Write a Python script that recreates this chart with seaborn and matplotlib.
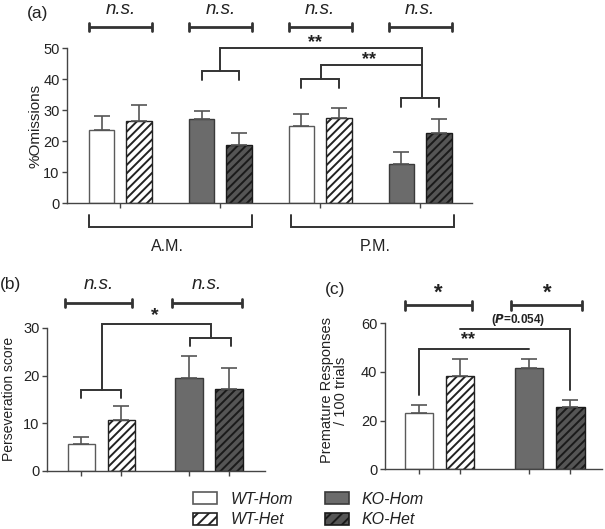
import numpy as np
import pandas as pd
import seaborn as sns
import matplotlib.pyplot as plt
from matplotlib.patches import Patch

# groups and values
groups = ["WT-Hom", "WT-Het", "KO-Hom", "KO-Het"]

omit_pos = [0, 1, 2.67, 3.67, 5.33, 6.33, 8, 9]
omit_group = groups * 2
omit_mean = [23.5, 26.5, 27.1, 18.9, 24.9, 27.6, 12.5, 22.5]
omit_sem = [4.6, 5.1, 2.6, 3.8, 3.7, 3.1, 4.0, 4.5]

pers_pos = [0, 1, 2.7, 3.7]
pers_mean = [5.6, 10.6, 19.4, 17.1]
pers_sem = [1.4, 3.0, 4.7, 4.4]

prem_pos = [0, 1, 2.65, 3.65]
prem_mean = [22.9, 38.2, 41.4, 25.4]
prem_sem = [3.5, 7.0, 3.8, 3.0]

palette = {"WT-Hom": "white", "WT-Het": "white", "KO-Hom": "#6b6b6b", "KO-Het": "#555555"}
hatches = {"WT-Hom": "", "WT-Het": "////", "KO-Hom": "", "KO-Het": "////"}
edges = {"WT-Hom": "#5a5a5a", "WT-Het": "#222222", "KO-Hom": "#3a3a3a", "KO-Het": "#1a1a1a"}

sns.set_style("ticks")
plt.rcParams["font.family"] = ["Liberation Sans", "DejaVu Sans"]
plt.rcParams["hatch.linewidth"] = 1.4
INK = "#222222"
LINE = "#333333"


def bar_panel(ax, pos, grp, mean, sem, ylim, yticks):
    df = pd.DataFrame({"pos": pos, "group": grp, "value": mean})
    sns.barplot(data=df, x="pos", y="value", hue="group", hue_order=groups,
                palette=palette, native_scale=True, dodge=False, width=0.68,
                linewidth=1.0, legend=False, ax=ax, errorbar=None)
    for p in ax.patches:
        cx = p.get_x() + p.get_width() / 2
        i = int(np.argmin(np.abs(np.array(pos) - cx)))
        g = grp[i]
        p.set_hatch(hatches[g])
        p.set_edgecolor(edges[g])
    ax.errorbar(pos, mean, yerr=[np.zeros(len(mean)), sem], fmt="none",
                ecolor="#555555", elinewidth=1.2, capsize=5.5, capthick=1.2, zorder=1)
    ax.set_ylim(*ylim)
    ax.set_yticks(yticks)
    ax.set_xlabel("")
    for s in ["left", "bottom"]:
        ax.spines[s].set_color("#444444")
        ax.spines[s].set_linewidth(1.0)
    sns.despine(ax=ax)
    ax.tick_params(axis="both", colors="#444444", labelcolor=INK, labelsize=10.5,
                   length=3.5, width=1.0, direction="out")
    ax.tick_params(axis="y", pad=2)
    ax.tick_params(axis="x", labelbottom=False)


def ns_bar(ax, x0, x1, y, cap, ty, text, size=13, style="italic", weight="normal"):
    ax.plot([x0, x1], [y, y], color=LINE, lw=2.0, clip_on=False, solid_capstyle="butt")
    for x in (x0, x1):
        ax.plot([x, x], [y - cap, y + cap], color=LINE, lw=2.0, clip_on=False)
    ax.text((x0 + x1) / 2, ty, text, ha="center", va="center", fontsize=size,
            style=style, weight=weight, color=INK, clip_on=False)


def line(ax, xs, ys, lw=1.4):
    ax.plot(xs, ys, color=LINE, lw=lw, clip_on=False, solid_joinstyle="miter")


fig = plt.figure(figsize=(6.05, 5.29), dpi=100)
ax_a = fig.add_axes([0.111, 0.616, 0.669, 0.293])
ax_b = fig.add_axes([0.078, 0.110, 0.360, 0.270])
ax_c = fig.add_axes([0.636, 0.113, 0.359, 0.276])

# ---- panel (a)
bar_panel(ax_a, omit_pos, omit_group, omit_mean, omit_sem, (0, 50), [0, 10, 20, 30, 40, 50])
ax_a.set_xlim(-0.92, 9.88)
ax_a.set_xticks([0.5, 3.17, 5.83, 8.5])
ax_a.set_ylabel("%Omissions", fontsize=11, color=INK)
ax_a.yaxis.set_label_coords(-0.062, 0.5)
for x0, x1 in [(-0.34, 1.34), (2.33, 4.01), (5.0, 6.67), (7.66, 9.34)]:
    ns_bar(ax_a, x0, x1, 56.9, 1.3, 62.5, "n.s.", size=13.5)
line(ax_a, [2.67, 2.67, 3.67, 3.67], [39.7, 42.7, 42.7, 39.7])
line(ax_a, [3.17, 3.17, 8.54, 8.54], [42.7, 50.0, 50.0, 34.0])
line(ax_a, [8.0, 8.0, 9.0, 9.0], [30.9, 34.0, 34.0, 30.9])
line(ax_a, [5.33, 5.33, 6.33, 6.33], [37.3, 40.2, 40.2, 37.3])
line(ax_a, [5.85, 5.85, 8.54], [40.2, 44.5, 44.5])
ax_a.text(5.69, 51.8, "**", ha="center", va="center", fontsize=13, weight="bold", color=INK)
ax_a.text(7.14, 46.2, "**", ha="center", va="center", fontsize=13, weight="bold", color=INK)
line(ax_a, [-0.33, -0.33, 4.0, 4.0], [-3.9, -7.6, -7.6, -3.9])
line(ax_a, [5.05, 5.05, 9.4, 9.4], [-3.9, -7.6, -7.6, -3.9])
ax_a.text(1.77, -14.0, "A.M.", ha="center", va="center", fontsize=11.5, color=INK)
ax_a.text(7.3, -14.0, "P.M.", ha="center", va="center", fontsize=11.5, color=INK)

# ---- panel (b)
bar_panel(ax_b, pers_pos, groups, pers_mean, pers_sem, (0, 30), [0, 10, 20, 30])
ax_b.set_xlim(-0.85, 4.6)
ax_b.set_xticks(pers_pos)
ax_b.set_ylabel("Perseveration score", fontsize=10, color=INK)
ax_b.yaxis.set_label_coords(-0.145, 0.5)
ns_bar(ax_b, -0.4, 1.27, 35.3, 0.85, 39.2, "n.s.", size=13.5)
ns_bar(ax_b, 2.27, 4.02, 35.3, 0.85, 39.2, "n.s.", size=13.5)
line(ax_b, [0, 0, 1, 1], [15.2, 17.0, 17.0, 15.2])
line(ax_b, [0.52, 0.52, 3.25, 3.25], [17.0, 30.8, 30.8, 27.8])
line(ax_b, [2.72, 2.72, 3.76, 3.76], [26.2, 27.8, 27.8, 26.2])
ax_b.text(1.83, 32.6, "*", ha="center", va="center", fontsize=14, weight="bold", color=INK)

# ---- panel (c)
bar_panel(ax_c, prem_pos, groups, prem_mean, prem_sem, (0, 60), [0, 20, 40, 60])
ax_c.set_xlim(-0.82, 4.41)
ax_c.set_xticks(prem_pos)
ax_c.set_ylabel("Premature Responses\n/ 100 trials", fontsize=10.5, color=INK, linespacing=0.95)
ax_c.yaxis.set_label_coords(-0.17, 0.54)
ns_bar(ax_c, -0.34, 1.27, 67.4, 1.8, 72.5, "*", size=16, style="normal", weight="bold")
ns_bar(ax_c, 2.23, 3.94, 67.4, 1.8, 72.5, "*", size=16, style="normal", weight="bold")
line(ax_c, [0.99, 3.65, 3.65], [57.8, 57.8, 32.5])
line(ax_c, [0, 0, 2.65], [30.4, 49.2, 49.2])
ax_c.text(1.18, 53.2, "**", ha="center", va="center", fontsize=13, weight="bold", color=INK)
ax_c.text(2.39, 61.4, r"($\bfit{P}$=0.054)", ha="center", va="center", fontsize=8.5,
          weight="bold", color=INK)

# panel letters
fig.text(0.045, 0.975, "(a)", fontsize=12.5, color=INK, va="center")
fig.text(0.0, 0.462, "(b)", fontsize=12.5, color=INK, va="center")
fig.text(0.537, 0.452, "(c)", fontsize=12.5, color=INK, va="center")

# legend
handles = [Patch(facecolor=palette[g], edgecolor=edges[g], hatch=hatches[g].replace("////", "///"),
                 linewidth=1.2) for g in groups]
leg = fig.legend(handles, groups, ncol=2, loc="center", bbox_to_anchor=(0.51, 0.037),
                 frameon=False, prop={"size": 11.5, "style": "italic"},
                 handlelength=1.5, handleheight=0.75, handletextpad=0.8,
                 columnspacing=2.0, labelspacing=0.35)
for t in leg.get_texts():
    t.set_color(INK)

fig.savefig("out.png", dpi=100)
